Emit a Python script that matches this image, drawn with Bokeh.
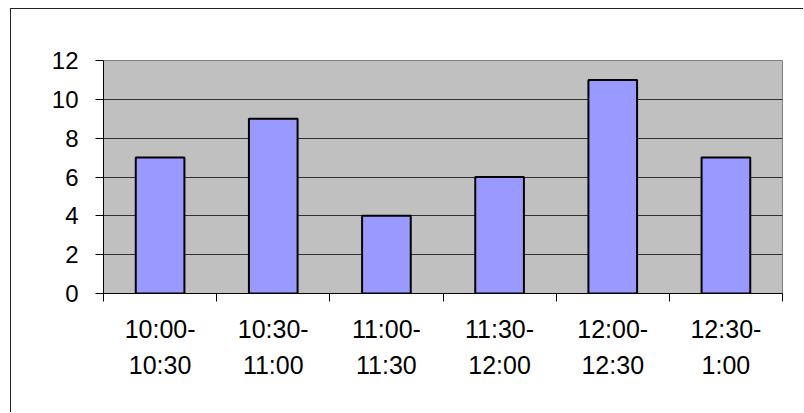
from bokeh.plotting import figure
from bokeh.models import FixedTicker, Range1d
from bokeh.embed import file_html
from bokeh.resources import INLINE

categories = ["10:00-\n10:30", "10:30-\n11:00", "11:00-\n11:30", "11:30-\n12:00", "12:00-\n12:30", "12:30-\n1:00"]
counts = [7, 9, 4, 6, 11, 7]
y_ticks = [0, 2, 4, 6, 8, 10, 12]

n = len(categories)
centers = [i + 0.5 for i in range(n)]
bounds = list(range(n + 1))

p = figure(width=793, height=404, output_backend="svg", toolbar_location=None,
           x_range=Range1d(0, n), y_range=Range1d(0, 12),
           min_border_left=92, min_border_right=22, min_border_top=51, min_border_bottom=120,
           margin=(8, 0, 0, 10))
p.styles = {"border-left": "1px solid #222222", "border-top": "1px solid #222222"}

p.background_fill_color = "#C0C0C0"
p.border_fill_color = "white"
p.outline_line_color = "#808080"
p.outline_line_width = 1

p.vbar(x=centers, top=counts, width=0.43, fill_color="#9999FF", line_color="black", line_width=2)

p.xgrid.visible = False
p.ygrid.ticker = FixedTicker(ticks=y_ticks)
p.ygrid.grid_line_color = "#303030"
p.ygrid.grid_line_width = 1

xa = p.xaxis[0]
xa.ticker = FixedTicker(ticks=centers, minor_ticks=bounds)
xa.major_label_overrides = {c: lab for c, lab in zip(centers, categories)}
xa.major_tick_line_color = None
xa.minor_tick_line_color = "black"
xa.minor_tick_out = 8
xa.minor_tick_in = 0
xa.axis_line_color = "black"
xa.axis_line_width = 1
xa.major_label_text_font = "Liberation Sans"
xa.major_label_text_font_size = "25px"
xa.major_label_text_color = "black"
xa.major_label_text_line_height = 1.3
xa.major_label_standoff = 13

ya = p.yaxis[0]
ya.ticker = FixedTicker(ticks=y_ticks)
ya.major_tick_out = 8
ya.major_tick_in = 0
ya.minor_tick_line_color = None
ya.axis_line_color = "black"
ya.major_label_text_font = "Liberation Sans"
ya.major_label_text_font_size = "24px"
ya.major_label_text_color = "black"
ya.major_label_standoff = 17

open("out.html", "w").write(file_html(p, INLINE))
